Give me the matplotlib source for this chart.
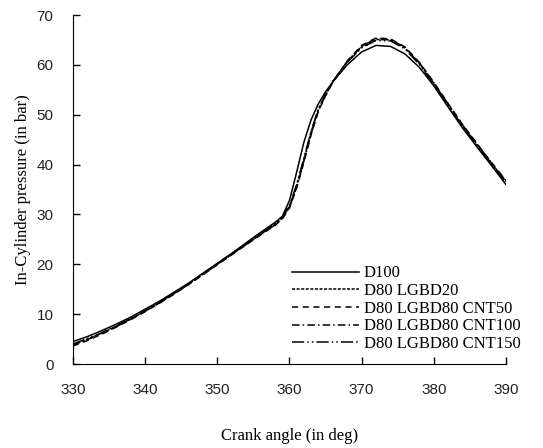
import matplotlib.pyplot as plt

# Crank angle (deg) and in-cylinder pressure (bar)
angle = [330, 332, 334, 336, 338, 340, 342, 344, 346, 348, 350, 352, 354, 356, 358,
         359, 360, 361, 362, 363, 364, 365, 366,
         368, 370, 372, 374, 376, 378, 380, 382, 384, 386, 388, 390]

d100 = [4.5, 5.5, 6.7, 8.0, 9.4, 11.0, 12.6, 14.4, 16.2, 18.2, 20.2, 22.2, 24.3, 26.4, 28.4,
        29.6, 32.8, 38.5, 44.5, 49.0, 52.2, 54.6, 56.6,
        60.0, 62.6, 63.9, 63.7, 62.2, 59.5, 55.8, 51.5, 47.3, 43.5, 39.8, 36.0]
lgbd20 = [3.9, 5.0, 6.2, 7.6, 9.0, 10.6, 12.3, 14.1, 16.0, 18.0, 20.0, 22.0, 24.0, 26.0, 28.0,
          29.3, 31.6, 35.8, 41.0, 46.5, 51.0, 54.0, 56.6,
          60.6, 63.6, 65.1, 65.0, 63.4, 60.3, 56.3, 52.0, 47.8, 44.0, 40.2, 36.6]
cnt50 = [3.6, 4.7, 6.0, 7.4, 8.9, 10.5, 12.2, 14.0, 15.9, 17.9, 19.9, 21.9, 23.9, 25.9, 27.8,
         29.1, 31.3, 35.3, 40.5, 46.0, 50.7, 53.8, 56.5,
         60.8, 63.9, 65.4, 65.2, 63.6, 60.5, 56.5, 52.2, 48.0, 44.2, 40.4, 36.8]
cnt100 = [3.8, 4.9, 6.1, 7.5, 9.0, 10.6, 12.3, 14.1, 16.0, 18.0, 20.0, 22.0, 24.0, 26.0, 27.9,
          29.2, 31.4, 35.5, 40.7, 46.2, 50.8, 53.9, 56.6,
          60.7, 63.7, 65.3, 65.1, 63.5, 60.4, 56.4, 52.1, 47.9, 44.1, 40.3, 36.7]
cnt150 = [4.0, 5.1, 6.3, 7.7, 9.1, 10.7, 12.4, 14.2, 16.1, 18.1, 20.1, 22.1, 24.1, 26.1, 28.1,
          29.4, 31.8, 36.0, 41.3, 46.7, 51.2, 54.1, 56.7,
          60.5, 63.4, 64.9, 64.8, 63.2, 60.1, 56.1, 51.8, 47.6, 43.8, 40.0, 36.4]

labels = ["D100", "D80 LGBD20", "D80 LGBD80 CNT50", "D80 LGBD80 CNT100", "D80 LGBD80 CNT150"]
series = [d100, lgbd20, cnt50, cnt100, cnt150]
styles = ["-", (0, (2, 1)), (0, (4, 3)), (0, (5, 2, 1, 2)), (0, (8, 2, 1, 2, 1, 2))]

serif = "Liberation Serif"

fig = plt.figure(figsize=(5.43, 4.48), dpi=100)
ax = fig.add_axes([0.1344, 0.1875, 0.7974, 0.779])

for y, lab, ls in zip(series, labels, styles):
    ax.plot(angle, y, color="black", linestyle=ls, linewidth=1.1, label=lab)

ax.set_xlim(330, 390)
ax.set_ylim(0, 70)
ax.set_xticks(range(330, 391, 10))
ax.set_yticks(range(0, 71, 10))
ax.spines["top"].set_visible(False)
ax.spines["right"].set_visible(False)
ax.tick_params(direction="in", length=5, width=1, labelsize=11)
ax.tick_params(axis="x", pad=14)
ax.tick_params(axis="y", pad=14)
for t in ax.get_xticklabels() + ax.get_yticklabels():
    t.set_family("Liberation Sans")
    t.set_color("#222222")

ax.set_xlabel("Crank angle (in deg)", fontsize=12, family=serif, labelpad=22)
ax.set_ylabel("In-Cylinder pressure (in bar)", fontsize=12, family=serif, labelpad=4)

ax.legend(loc="lower left", bbox_to_anchor=(0.506, 0.034), frameon=False,
          prop={"family": serif, "size": 12}, handlelength=4.0, handletextpad=0.3,
          labelspacing=0.1, borderpad=0, borderaxespad=0)

fig.savefig("out.png", dpi=100)
